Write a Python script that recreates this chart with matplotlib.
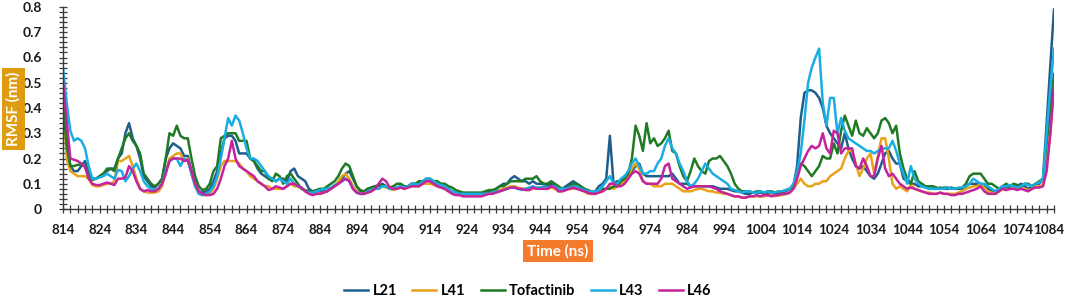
import matplotlib
matplotlib.use("Agg")
import matplotlib.pyplot as plt
from matplotlib.ticker import MultipleLocator, FixedLocator
from matplotlib.transforms import ScaledTranslation
import numpy as np

plt.rcParams['font.family'] = ['Lato', 'DejaVu Sans']

residues = list(range(814, 1085))

L21 = [
    0.45, 0.28, 0.17, 0.15, 0.15, 0.17, 0.19, 0.14, 0.12, 0.12,
    0.13, 0.14, 0.15, 0.16, 0.16, 0.20, 0.22, 0.30, 0.34, 0.28,
    0.25, 0.20, 0.13, 0.11, 0.09, 0.085, 0.10, 0.12, 0.20, 0.24,
    0.26, 0.25, 0.24, 0.21, 0.21, 0.15, 0.10, 0.07, 0.065, 0.07,
    0.08, 0.11, 0.15, 0.22, 0.28, 0.29, 0.29, 0.27, 0.22, 0.22,
    0.22, 0.20, 0.19, 0.16, 0.14, 0.13, 0.12, 0.12, 0.11, 0.12,
    0.12, 0.11, 0.15, 0.16, 0.13, 0.12, 0.11, 0.08, 0.07, 0.07,
    0.07, 0.075, 0.08, 0.08, 0.09, 0.10, 0.12, 0.14, 0.15, 0.12,
    0.09, 0.07, 0.065, 0.08, 0.085, 0.09, 0.09, 0.10, 0.09, 0.08,
    0.08, 0.085, 0.09, 0.08, 0.09, 0.10, 0.10, 0.10, 0.11, 0.115,
    0.11, 0.10, 0.10, 0.09, 0.085, 0.08, 0.07, 0.065, 0.065, 0.06,
    0.06, 0.06, 0.06, 0.06, 0.06, 0.065, 0.07, 0.07, 0.08, 0.09,
    0.10, 0.10, 0.12, 0.13, 0.12, 0.11, 0.11, 0.10, 0.11, 0.10,
    0.10, 0.10, 0.09, 0.10, 0.09, 0.08, 0.08, 0.09, 0.10, 0.11,
    0.10, 0.09, 0.08, 0.07, 0.07, 0.07, 0.09, 0.10, 0.12, 0.29,
    0.10, 0.11, 0.11, 0.13, 0.13, 0.15, 0.17, 0.18, 0.14, 0.13,
    0.13, 0.13, 0.13, 0.13, 0.13, 0.13, 0.14, 0.12, 0.10, 0.10,
    0.10, 0.09, 0.09, 0.09, 0.09, 0.09, 0.09, 0.09, 0.085, 0.08,
    0.08, 0.08, 0.075, 0.07, 0.07, 0.065, 0.06, 0.06, 0.065, 0.065,
    0.065, 0.06, 0.065, 0.065, 0.06, 0.065, 0.065, 0.07, 0.08, 0.09,
    0.17, 0.36, 0.46, 0.47, 0.47, 0.46, 0.44, 0.40, 0.33, 0.30,
    0.28, 0.26, 0.24, 0.30, 0.24, 0.20, 0.17, 0.16, 0.17, 0.15,
    0.13, 0.12, 0.14, 0.18, 0.22, 0.23, 0.20, 0.18, 0.18, 0.12,
    0.11, 0.10, 0.10, 0.09, 0.09, 0.085, 0.08, 0.08, 0.08, 0.085,
    0.08, 0.08, 0.085, 0.08, 0.08, 0.08, 0.09, 0.10, 0.10, 0.10,
    0.10, 0.09, 0.08, 0.07, 0.07, 0.08, 0.09, 0.085, 0.09, 0.09,
    0.09, 0.10, 0.09, 0.08, 0.09, 0.10, 0.10, 0.12, 0.34, 0.57,
    0.79,
]

L41 = [
    0.45, 0.20, 0.15, 0.14, 0.13, 0.13, 0.13, 0.12, 0.095, 0.09,
    0.09, 0.095, 0.10, 0.10, 0.11, 0.19, 0.19, 0.20, 0.21, 0.17,
    0.12, 0.08, 0.07, 0.065, 0.065, 0.065, 0.07, 0.09, 0.15, 0.20,
    0.21, 0.22, 0.22, 0.19, 0.20, 0.14, 0.09, 0.06, 0.055, 0.055,
    0.06, 0.08, 0.12, 0.17, 0.19, 0.19, 0.19, 0.19, 0.18, 0.16,
    0.15, 0.13, 0.12, 0.11, 0.10, 0.09, 0.09, 0.08, 0.08, 0.08,
    0.08, 0.09, 0.10, 0.09, 0.09, 0.08, 0.07, 0.065, 0.06, 0.06,
    0.06, 0.065, 0.07, 0.08, 0.09, 0.11, 0.13, 0.14, 0.12, 0.09,
    0.07, 0.06, 0.06, 0.065, 0.07, 0.08, 0.08, 0.09, 0.085, 0.08,
    0.075, 0.08, 0.085, 0.08, 0.085, 0.09, 0.09, 0.09, 0.10, 0.10,
    0.10, 0.095, 0.09, 0.085, 0.08, 0.07, 0.065, 0.06, 0.06, 0.055,
    0.055, 0.055, 0.055, 0.055, 0.055, 0.06, 0.06, 0.065, 0.07, 0.075,
    0.08, 0.085, 0.09, 0.09, 0.085, 0.08, 0.08, 0.075, 0.08, 0.085,
    0.08, 0.08, 0.08, 0.085, 0.08, 0.07, 0.07, 0.075, 0.08, 0.08,
    0.08, 0.075, 0.07, 0.06, 0.06, 0.06, 0.065, 0.07, 0.08, 0.09,
    0.08, 0.09, 0.10, 0.11, 0.13, 0.16, 0.18, 0.16, 0.11, 0.10,
    0.10, 0.09, 0.09, 0.09, 0.10, 0.10, 0.10, 0.09, 0.08, 0.07,
    0.07, 0.07, 0.075, 0.08, 0.08, 0.075, 0.07, 0.07, 0.065, 0.065,
    0.06, 0.06, 0.055, 0.05, 0.05, 0.045, 0.045, 0.05, 0.05, 0.05,
    0.05, 0.05, 0.055, 0.055, 0.05, 0.055, 0.055, 0.06, 0.065, 0.08,
    0.10, 0.12, 0.10, 0.09, 0.09, 0.10, 0.10, 0.11, 0.11, 0.13,
    0.14, 0.15, 0.16, 0.20, 0.23, 0.23, 0.18, 0.13, 0.16, 0.20,
    0.22, 0.14, 0.21, 0.28, 0.28, 0.20, 0.10, 0.08, 0.09, 0.08,
    0.07, 0.10, 0.08, 0.075, 0.07, 0.065, 0.065, 0.06, 0.06, 0.065,
    0.06, 0.06, 0.06, 0.06, 0.065, 0.07, 0.08, 0.085, 0.09, 0.09,
    0.10, 0.085, 0.07, 0.065, 0.06, 0.07, 0.08, 0.075, 0.08, 0.085,
    0.08, 0.085, 0.08, 0.075, 0.08, 0.09, 0.09, 0.095, 0.17, 0.30,
    0.48,
]

Tofactinib = [
    0.42, 0.25, 0.17, 0.17, 0.175, 0.175, 0.17, 0.13, 0.115, 0.12,
    0.13, 0.14, 0.16, 0.16, 0.15, 0.20, 0.24, 0.28, 0.30, 0.27,
    0.25, 0.22, 0.14, 0.12, 0.10, 0.09, 0.10, 0.12, 0.20, 0.30,
    0.29, 0.33, 0.29, 0.28, 0.28, 0.20, 0.13, 0.09, 0.075, 0.08,
    0.10, 0.15, 0.17, 0.28, 0.29, 0.30, 0.30, 0.30, 0.27, 0.27,
    0.27, 0.20, 0.19, 0.17, 0.15, 0.15, 0.12, 0.11, 0.14, 0.13,
    0.10, 0.13, 0.14, 0.12, 0.10, 0.08, 0.075, 0.07, 0.07, 0.075,
    0.08, 0.08, 0.09, 0.10, 0.11, 0.13, 0.16, 0.18, 0.17, 0.13,
    0.09, 0.075, 0.07, 0.08, 0.085, 0.09, 0.095, 0.095, 0.09, 0.085,
    0.09, 0.10, 0.10, 0.09, 0.09, 0.10, 0.10, 0.11, 0.11, 0.12,
    0.12, 0.11, 0.11, 0.10, 0.10, 0.09, 0.085, 0.075, 0.07, 0.065,
    0.065, 0.065, 0.065, 0.065, 0.065, 0.07, 0.075, 0.075, 0.08, 0.09,
    0.09, 0.10, 0.11, 0.11, 0.11, 0.11, 0.12, 0.12, 0.12, 0.13,
    0.11, 0.10, 0.10, 0.11, 0.10, 0.09, 0.08, 0.08, 0.09, 0.10,
    0.10, 0.09, 0.08, 0.075, 0.07, 0.07, 0.075, 0.08, 0.08, 0.08,
    0.09, 0.09, 0.11, 0.12, 0.14, 0.20, 0.33, 0.29, 0.23, 0.34,
    0.26, 0.28, 0.25, 0.26, 0.28, 0.31, 0.23, 0.22, 0.17, 0.13,
    0.11, 0.15, 0.20, 0.17, 0.15, 0.14, 0.19, 0.20, 0.20, 0.21,
    0.19, 0.17, 0.14, 0.10, 0.08, 0.07, 0.07, 0.07, 0.065, 0.07,
    0.07, 0.065, 0.07, 0.07, 0.065, 0.07, 0.07, 0.075, 0.08, 0.09,
    0.14, 0.18, 0.17, 0.15, 0.13, 0.15, 0.17, 0.21, 0.20, 0.20,
    0.26, 0.22, 0.31, 0.37, 0.33, 0.29, 0.35, 0.30, 0.29, 0.32,
    0.30, 0.28, 0.30, 0.35, 0.36, 0.34, 0.30, 0.33, 0.22, 0.16,
    0.12, 0.10, 0.15, 0.11, 0.10, 0.09, 0.09, 0.09, 0.085, 0.08,
    0.085, 0.085, 0.08, 0.08, 0.08, 0.085, 0.10, 0.13, 0.14, 0.14,
    0.14, 0.12, 0.10, 0.10, 0.09, 0.08, 0.09, 0.10, 0.09, 0.10,
    0.095, 0.09, 0.10, 0.10, 0.09, 0.10, 0.11, 0.12, 0.26, 0.40,
    0.535,
]

L43 = [
    0.56, 0.42, 0.31, 0.27, 0.28, 0.27, 0.24, 0.17, 0.12, 0.12,
    0.125, 0.13, 0.14, 0.13, 0.12, 0.155, 0.15, 0.11, 0.13, 0.16,
    0.18, 0.15, 0.11, 0.09, 0.08, 0.075, 0.08, 0.10, 0.15, 0.19,
    0.20, 0.20, 0.17, 0.20, 0.19, 0.14, 0.09, 0.06, 0.055, 0.06,
    0.07, 0.09, 0.13, 0.20, 0.28, 0.36, 0.33, 0.37, 0.35, 0.30,
    0.24, 0.20, 0.20, 0.19, 0.17, 0.15, 0.13, 0.12, 0.11, 0.12,
    0.11, 0.10, 0.12, 0.10, 0.09, 0.085, 0.07, 0.065, 0.065, 0.07,
    0.075, 0.08, 0.08, 0.085, 0.095, 0.10, 0.11, 0.12, 0.11, 0.08,
    0.065, 0.06, 0.06, 0.07, 0.075, 0.08, 0.08, 0.09, 0.09, 0.08,
    0.08, 0.085, 0.09, 0.085, 0.09, 0.10, 0.10, 0.095, 0.11, 0.12,
    0.12, 0.11, 0.10, 0.095, 0.09, 0.08, 0.07, 0.065, 0.06, 0.06,
    0.06, 0.06, 0.06, 0.06, 0.06, 0.06, 0.06, 0.065, 0.07, 0.07,
    0.075, 0.08, 0.085, 0.085, 0.08, 0.075, 0.08, 0.085, 0.09, 0.085,
    0.085, 0.09, 0.085, 0.09, 0.09, 0.08, 0.08, 0.08, 0.085, 0.09,
    0.09, 0.08, 0.075, 0.07, 0.07, 0.07, 0.075, 0.09, 0.11, 0.13,
    0.10, 0.10, 0.12, 0.13, 0.15, 0.18, 0.20, 0.17, 0.14, 0.14,
    0.15, 0.15, 0.18, 0.20, 0.25, 0.28, 0.24, 0.22, 0.18, 0.15,
    0.11, 0.09, 0.10, 0.12, 0.15, 0.18, 0.16, 0.14, 0.13, 0.12,
    0.11, 0.10, 0.08, 0.075, 0.07, 0.065, 0.07, 0.07, 0.065, 0.065,
    0.07, 0.065, 0.07, 0.065, 0.065, 0.07, 0.07, 0.075, 0.08, 0.10,
    0.15, 0.22, 0.35, 0.50, 0.56, 0.60, 0.635, 0.42, 0.33, 0.44,
    0.44, 0.30, 0.36, 0.31, 0.28, 0.27, 0.26, 0.25, 0.24, 0.23,
    0.23, 0.22, 0.23, 0.24, 0.24, 0.24, 0.27, 0.23, 0.18, 0.14,
    0.10, 0.17, 0.12, 0.10, 0.09, 0.085, 0.08, 0.08, 0.08, 0.08,
    0.08, 0.085, 0.08, 0.08, 0.085, 0.085, 0.09, 0.10, 0.12, 0.11,
    0.10, 0.10, 0.09, 0.08, 0.07, 0.08, 0.09, 0.09, 0.095, 0.09,
    0.085, 0.09, 0.10, 0.095, 0.09, 0.10, 0.105, 0.12, 0.30, 0.48,
    0.635,
]

L46 = [
    0.50, 0.35, 0.20, 0.195, 0.19, 0.18, 0.165, 0.12, 0.10, 0.095,
    0.095, 0.10, 0.105, 0.10, 0.095, 0.12, 0.12, 0.125, 0.17, 0.15,
    0.11, 0.08, 0.07, 0.075, 0.07, 0.07, 0.08, 0.10, 0.14, 0.19,
    0.20, 0.20, 0.20, 0.19, 0.195, 0.15, 0.10, 0.07, 0.06, 0.055,
    0.055, 0.06, 0.08, 0.12, 0.17, 0.20, 0.27, 0.20, 0.17, 0.16,
    0.15, 0.14, 0.13, 0.11, 0.10, 0.09, 0.075, 0.08, 0.09, 0.085,
    0.08, 0.09, 0.10, 0.10, 0.09, 0.085, 0.07, 0.06, 0.055, 0.06,
    0.06, 0.065, 0.07, 0.08, 0.09, 0.10, 0.11, 0.12, 0.11, 0.08,
    0.065, 0.06, 0.06, 0.065, 0.07, 0.08, 0.10, 0.12, 0.11, 0.085,
    0.08, 0.08, 0.085, 0.08, 0.085, 0.09, 0.09, 0.09, 0.10, 0.11,
    0.11, 0.10, 0.09, 0.085, 0.08, 0.07, 0.06, 0.055, 0.055, 0.05,
    0.05, 0.05, 0.05, 0.05, 0.05, 0.055, 0.06, 0.06, 0.065, 0.07,
    0.075, 0.08, 0.085, 0.085, 0.08, 0.08, 0.075, 0.075, 0.085, 0.08,
    0.08, 0.08, 0.08, 0.09, 0.085, 0.07, 0.07, 0.075, 0.08, 0.085,
    0.08, 0.075, 0.07, 0.065, 0.06, 0.06, 0.065, 0.07, 0.08, 0.10,
    0.10, 0.09, 0.09, 0.10, 0.12, 0.14, 0.15, 0.14, 0.11, 0.10,
    0.10, 0.10, 0.10, 0.12, 0.17, 0.18, 0.12, 0.11, 0.10, 0.09,
    0.08, 0.085, 0.09, 0.09, 0.09, 0.09, 0.09, 0.085, 0.08, 0.07,
    0.065, 0.06, 0.055, 0.05, 0.05, 0.045, 0.045, 0.05, 0.05, 0.055,
    0.05, 0.055, 0.055, 0.05, 0.055, 0.055, 0.06, 0.06, 0.065, 0.08,
    0.12, 0.17, 0.20, 0.23, 0.25, 0.24, 0.25, 0.30, 0.24, 0.22,
    0.31, 0.30, 0.22, 0.24, 0.24, 0.24, 0.17, 0.16, 0.20, 0.17,
    0.13, 0.13, 0.20, 0.25, 0.16, 0.13, 0.14, 0.12, 0.10, 0.09,
    0.08, 0.085, 0.08, 0.075, 0.07, 0.065, 0.06, 0.06, 0.06, 0.065,
    0.06, 0.06, 0.055, 0.055, 0.06, 0.06, 0.065, 0.07, 0.075, 0.08,
    0.09, 0.07, 0.06, 0.06, 0.06, 0.07, 0.08, 0.075, 0.08, 0.08,
    0.075, 0.08, 0.075, 0.07, 0.08, 0.085, 0.085, 0.09, 0.15, 0.30,
    0.49,
]

series_names = ['L21', 'L41', 'Tofactinib', 'L43', 'L46']
series_colors = ['#1F5E8C', '#E8A21A', '#1E7B24', '#1AADE3', '#C4239E']
x_tick_labels = [str(v) for v in range(814, 1085, 10)]
y_ticks = [0, 0.1, 0.2, 0.3, 0.4, 0.5, 0.6, 0.7, 0.8]

W, H = 1065, 299
fig = plt.figure(figsize=(W / 100, H / 100), dpi=100)
ax = fig.add_axes([63 / W, 1 - 209 / H, (1054 - 63) / W, (209 - 7) / H])

for name, vals, col in zip(series_names, [L21, L41, Tofactinib, L43, L46], series_colors):
    ax.plot(residues, vals, color=col, lw=1.8, label=name, solid_joinstyle='round')

ax.set_xlim(814, 1084)
ax.set_ylim(0, 0.8)

ax.xaxis.set_major_locator(FixedLocator(list(range(814, 1085, 10))))
ax.set_xticklabels(x_tick_labels)
ax.xaxis.set_minor_locator(FixedLocator(list(range(814, 1085, 2))))
ax.set_yticks(y_ticks)
ax.set_yticklabels(['0' if v == 0 else f'{v:.1f}' for v in y_ticks])
ax.yaxis.set_minor_locator(MultipleLocator(0.02))

axis_col = '#3a3a3a'
for s in ['top', 'right']:
    ax.spines[s].set_visible(False)
for s in ['left', 'bottom']:
    ax.spines[s].set_color(axis_col)
    ax.spines[s].set_linewidth(1.0)

ax.tick_params(which='both', direction='inout', length=6, width=0.9, color=axis_col)
ax.tick_params(axis='x', which='major', pad=8, labelsize=9.6)
ax.tick_params(axis='y', which='major', pad=12, labelsize=10)
for lab in ax.get_xticklabels() + ax.get_yticklabels():
    lab.set_fontweight('bold')
    lab.set_color('#1a1a1a')

# Excel pulls the last category label inward so it stays inside the chart
last = ax.get_xticklabels()[-1]
last.set_transform(last.get_transform() + ScaledTranslation(-5 / 100, 0, fig.dpi_scale_trans))

# axis titles in coloured boxes
fig.text(13.5 / W, 1 - 109 / H, 'RMSF (nm)', rotation=90, ha='center', va='center',
         color='white', fontsize=11, fontweight='bold',
         bbox=dict(boxstyle='square,pad=0.25', fc='#DE9C0E', ec='none'))
fig.text(558 / W, 1 - 251 / H, 'Time (ns)', ha='center', va='center',
         color='white', fontsize=11, fontweight='bold',
         bbox=dict(boxstyle='square,pad=0.25', fc='#F47B2C', ec='none'))

leg = fig.legend(loc='center', bbox_to_anchor=(528 / W, 1 - 291 / H), ncol=5,
                 frameon=False, handlelength=1.65, handletextpad=0.3, columnspacing=1.05,
                 prop={'weight': 'bold', 'size': 10.5})
for line in leg.get_lines():
    line.set_linewidth(1.8)

fig.savefig('out.png', dpi=100)
